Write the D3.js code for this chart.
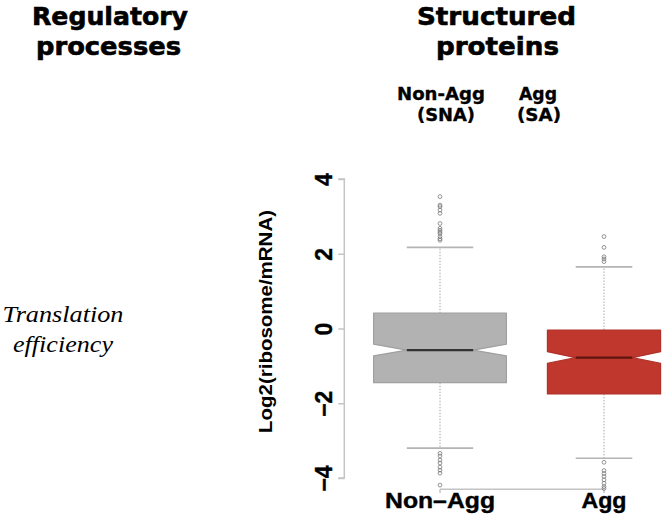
<!DOCTYPE html>
<html>
<head>
<meta charset="utf-8">
<script src="https://cdn.jsdelivr.net/npm/d3@7"></script>
<style>
  html, body { margin: 0; padding: 0; background: #fff; }
  svg { display: block; }
</style>
</head>
<body>
<svg id="chart" width="664" height="518"></svg>
<script>
// ---------------- data ----------------
const categories = ["Non–Agg", "Agg"];
const groupHeaders = [["Non-Agg", "(SNA)"], ["Agg", "(SA)"]];
const q1Values = [-1.45, -1.75];
const medianValues = [-0.58, -0.78];
const q3Values = [0.41, -0.04];
const notchLow = [-0.73, -0.93];
const notchHigh = [-0.42, -0.62];
const whiskerLow = [-3.20, -3.47];
const whiskerHigh = [2.17, 1.65];
const outliers = [
  [3.53, 3.30, 3.26, 3.17, 3.08, 2.81, 2.68, 2.63, 2.58, 2.54, 2.46, 2.40, 2.36,
   -3.34, -3.41, -3.52, -3.60, -3.71, -3.79, -3.87, -4.19],
  [2.46, 2.17, 1.92, 1.86, 1.79,
   -3.58, -3.80, -3.88, -3.96, -4.05, -4.14, -4.23, -4.28]
];
const yTicks = [-4, -2, 0, 2, 4];
const yTickLabels = ["−4", "−2", "0", "2", "4"];
const yLabel = "Log2(ribosome/mRNA)";
const titleLeft = ["Regulatory", "processes"];
const titleRight = ["Structured", "proteins"];
const rowLabel = ["Translation", "efficiency"];

// ---------------- styles ----------------
const boxWidthFrac = [0.81, 0.69];
const fills = ["#b2b2b2", "#bf372d"];
const strokes = ["#a0a0a0", "#b0322a"];
const medianColors = ["#333333", "#5e1611"];

const svg = d3.select("#chart");
svg.append("rect").attr("width", 664).attr("height", 518).attr("fill", "#fff");

// scales
const x = d3.scaleLinear().domain([0.5, 2.5]).range([358, 686]);
const y = d3.scaleLinear().domain([-4, 4]).range([478, 179]);
const unit = x(2) - x(1);

function stretchedText(g, txt, cx, baseline, width, opts) {
  return g.append("text")
    .attr("x", cx - width / 2)
    .attr("y", baseline)
    .attr("textLength", width)
    .attr("lengthAdjust", "spacingAndGlyphs")
    .attr("font-family", opts.family)
    .attr("font-size", opts.size)
    .attr("font-weight", opts.weight || "normal")
    .attr("font-style", opts.style || "normal")
    .attr("fill", "#000")
    .attr("stroke", opts.stroke ? "#000" : "none")
    .attr("stroke-width", opts.stroke || 0)
    .text(txt);
}

const titleFont = { family: "'DejaVu Sans', Verdana, sans-serif", size: 24, weight: "bold", stroke: 0.6 };
const txtG = svg.append("g");
stretchedText(txtG, titleLeft[0], 110, 25, 156, titleFont);
stretchedText(txtG, titleLeft[1], 108.5, 55, 145, titleFont);
stretchedText(txtG, titleRight[0], 496.5, 25, 159, titleFont);
stretchedText(txtG, titleRight[1], 497.5, 55, 123, titleFont);

const subFont = { family: "'DejaVu Sans', Verdana, sans-serif", size: 18.5, weight: "bold", stroke: 0.35 };
stretchedText(txtG, groupHeaders[0][0], 441, 100, 88, subFont);
stretchedText(txtG, groupHeaders[0][1], 446, 120.5, 58, subFont);
stretchedText(txtG, groupHeaders[1][0], 538, 100, 38, subFont);
stretchedText(txtG, groupHeaders[1][1], 539, 120.5, 44, subFont);

const rowFont = { family: "'Liberation Serif', 'Times New Roman', serif", size: 23, style: "italic" };
stretchedText(txtG, rowLabel[0], 63, 322, 121, rowFont);
stretchedText(txtG, rowLabel[1], 63, 352, 100, rowFont);

// ---------------- y axis ----------------
const axisColor = "#c4c4c4";
const yAxis = d3.axisLeft(y).tickValues(yTicks).tickSize(6).tickFormat((d, i) => yTickLabels[i]);
const yg = svg.append("g").attr("transform", "translate(344.3,0)").call(yAxis);
yg.select(".domain").attr("stroke", axisColor).attr("stroke-width", 1.5)
  .attr("d", `M-6,${y(4)}H0V${y(-4)}H-6`);
yg.selectAll(".tick line").attr("stroke", axisColor).attr("stroke-width", 1.5);
yg.selectAll(".tick text")
  .attr("x", 0).attr("y", 0).attr("dy", null)
  .attr("text-anchor", "middle")
  .attr("dominant-baseline", "central")
  .attr("transform", "translate(-20,0) rotate(-90)")
  .attr("font-family", "'Liberation Sans', Arial, sans-serif")
  .attr("font-size", 23).attr("font-weight", "bold").attr("fill", "#000")
  .attr("stroke", "#000").attr("stroke-width", 0.4);

svg.append("text")
  .attr("transform", "translate(266,321.5) rotate(-90)")
  .attr("text-anchor", "middle")
  .attr("dominant-baseline", "central")
  .attr("textLength", 223)
  .attr("lengthAdjust", "spacingAndGlyphs")
  .attr("font-family", "'Liberation Sans', Arial, sans-serif")
  .attr("font-size", 18).attr("font-weight", "bold")
  .attr("x", 0).attr("y", 0)
  .text(yLabel);

// ---------------- x axis ----------------
const xg = svg.append("g");
xg.append("line")
  .attr("x1", x(1)).attr("x2", x(2))
  .attr("y1", 489.3).attr("y2", 489.3)
  .attr("stroke", axisColor).attr("stroke-width", 1.5);
categories.forEach((c, i) => {
  xg.append("line")
    .attr("x1", x(i + 1)).attr("x2", x(i + 1))
    .attr("y1", 489.3).attr("y2", 493)
    .attr("stroke", axisColor).attr("stroke-width", 1.5);
});
const xLabFont = { family: "'Liberation Sans', Arial, sans-serif", size: 22, weight: "bold", stroke: 0.4 };
stretchedText(xg, categories[0], x(1), 508, 110, xLabFont);
stretchedText(xg, categories[1], x(2), 508, 45, xLabFont);

// ---------------- boxes ----------------
const boxes = svg.append("g");
categories.forEach((c, i) => {
  const cx = x(i + 1);
  const hw = unit * boxWidthFrac[i] / 2;
  const g = boxes.append("g");
  g.append("line").attr("x1", cx).attr("x2", cx)
    .attr("y1", y(q3Values[i])).attr("y2", y(whiskerHigh[i]))
    .attr("stroke", "#a8a8a8").attr("stroke-width", 1).attr("stroke-dasharray", "1.5,1.5");
  g.append("line").attr("x1", cx).attr("x2", cx)
    .attr("y1", y(q1Values[i])).attr("y2", y(whiskerLow[i]))
    .attr("stroke", "#a8a8a8").attr("stroke-width", 1).attr("stroke-dasharray", "1.5,1.5");
  [whiskerHigh[i], whiskerLow[i]].forEach(v => {
    g.append("line").attr("x1", cx - hw / 2).attr("x2", cx + hw / 2)
      .attr("y1", y(v)).attr("y2", y(v))
      .attr("stroke", "#b4b4b4").attr("stroke-width", 1.6);
  });
  const nf = 0.5;
  const pts = [
    [cx - hw, y(q1Values[i])], [cx + hw, y(q1Values[i])],
    [cx + hw, y(notchLow[i])], [cx + hw * nf, y(medianValues[i])],
    [cx + hw, y(notchHigh[i])], [cx + hw, y(q3Values[i])],
    [cx - hw, y(q3Values[i])], [cx - hw, y(notchHigh[i])],
    [cx - hw * nf, y(medianValues[i])], [cx - hw, y(notchLow[i])]
  ];
  g.append("path")
    .attr("d", d3.line()(pts) + "Z")
    .attr("fill", fills[i]).attr("stroke", strokes[i]).attr("stroke-width", 1.2)
    .attr("stroke-linejoin", "round");
  g.append("line").attr("x1", cx - hw * nf).attr("x2", cx + hw * nf)
    .attr("y1", y(medianValues[i])).attr("y2", y(medianValues[i]))
    .attr("stroke", medianColors[i]).attr("stroke-width", 2.2);
  g.selectAll("circle.o").data(outliers[i]).join("circle")
    .attr("class", "o")
    .attr("cx", cx).attr("cy", d => y(d)).attr("r", 1.9)
    .attr("fill", "none").attr("stroke", "#7a7a7a").attr("stroke-width", 1)
    .attr("stroke-opacity", 0.8);
});
</script>
</body>
</html>
